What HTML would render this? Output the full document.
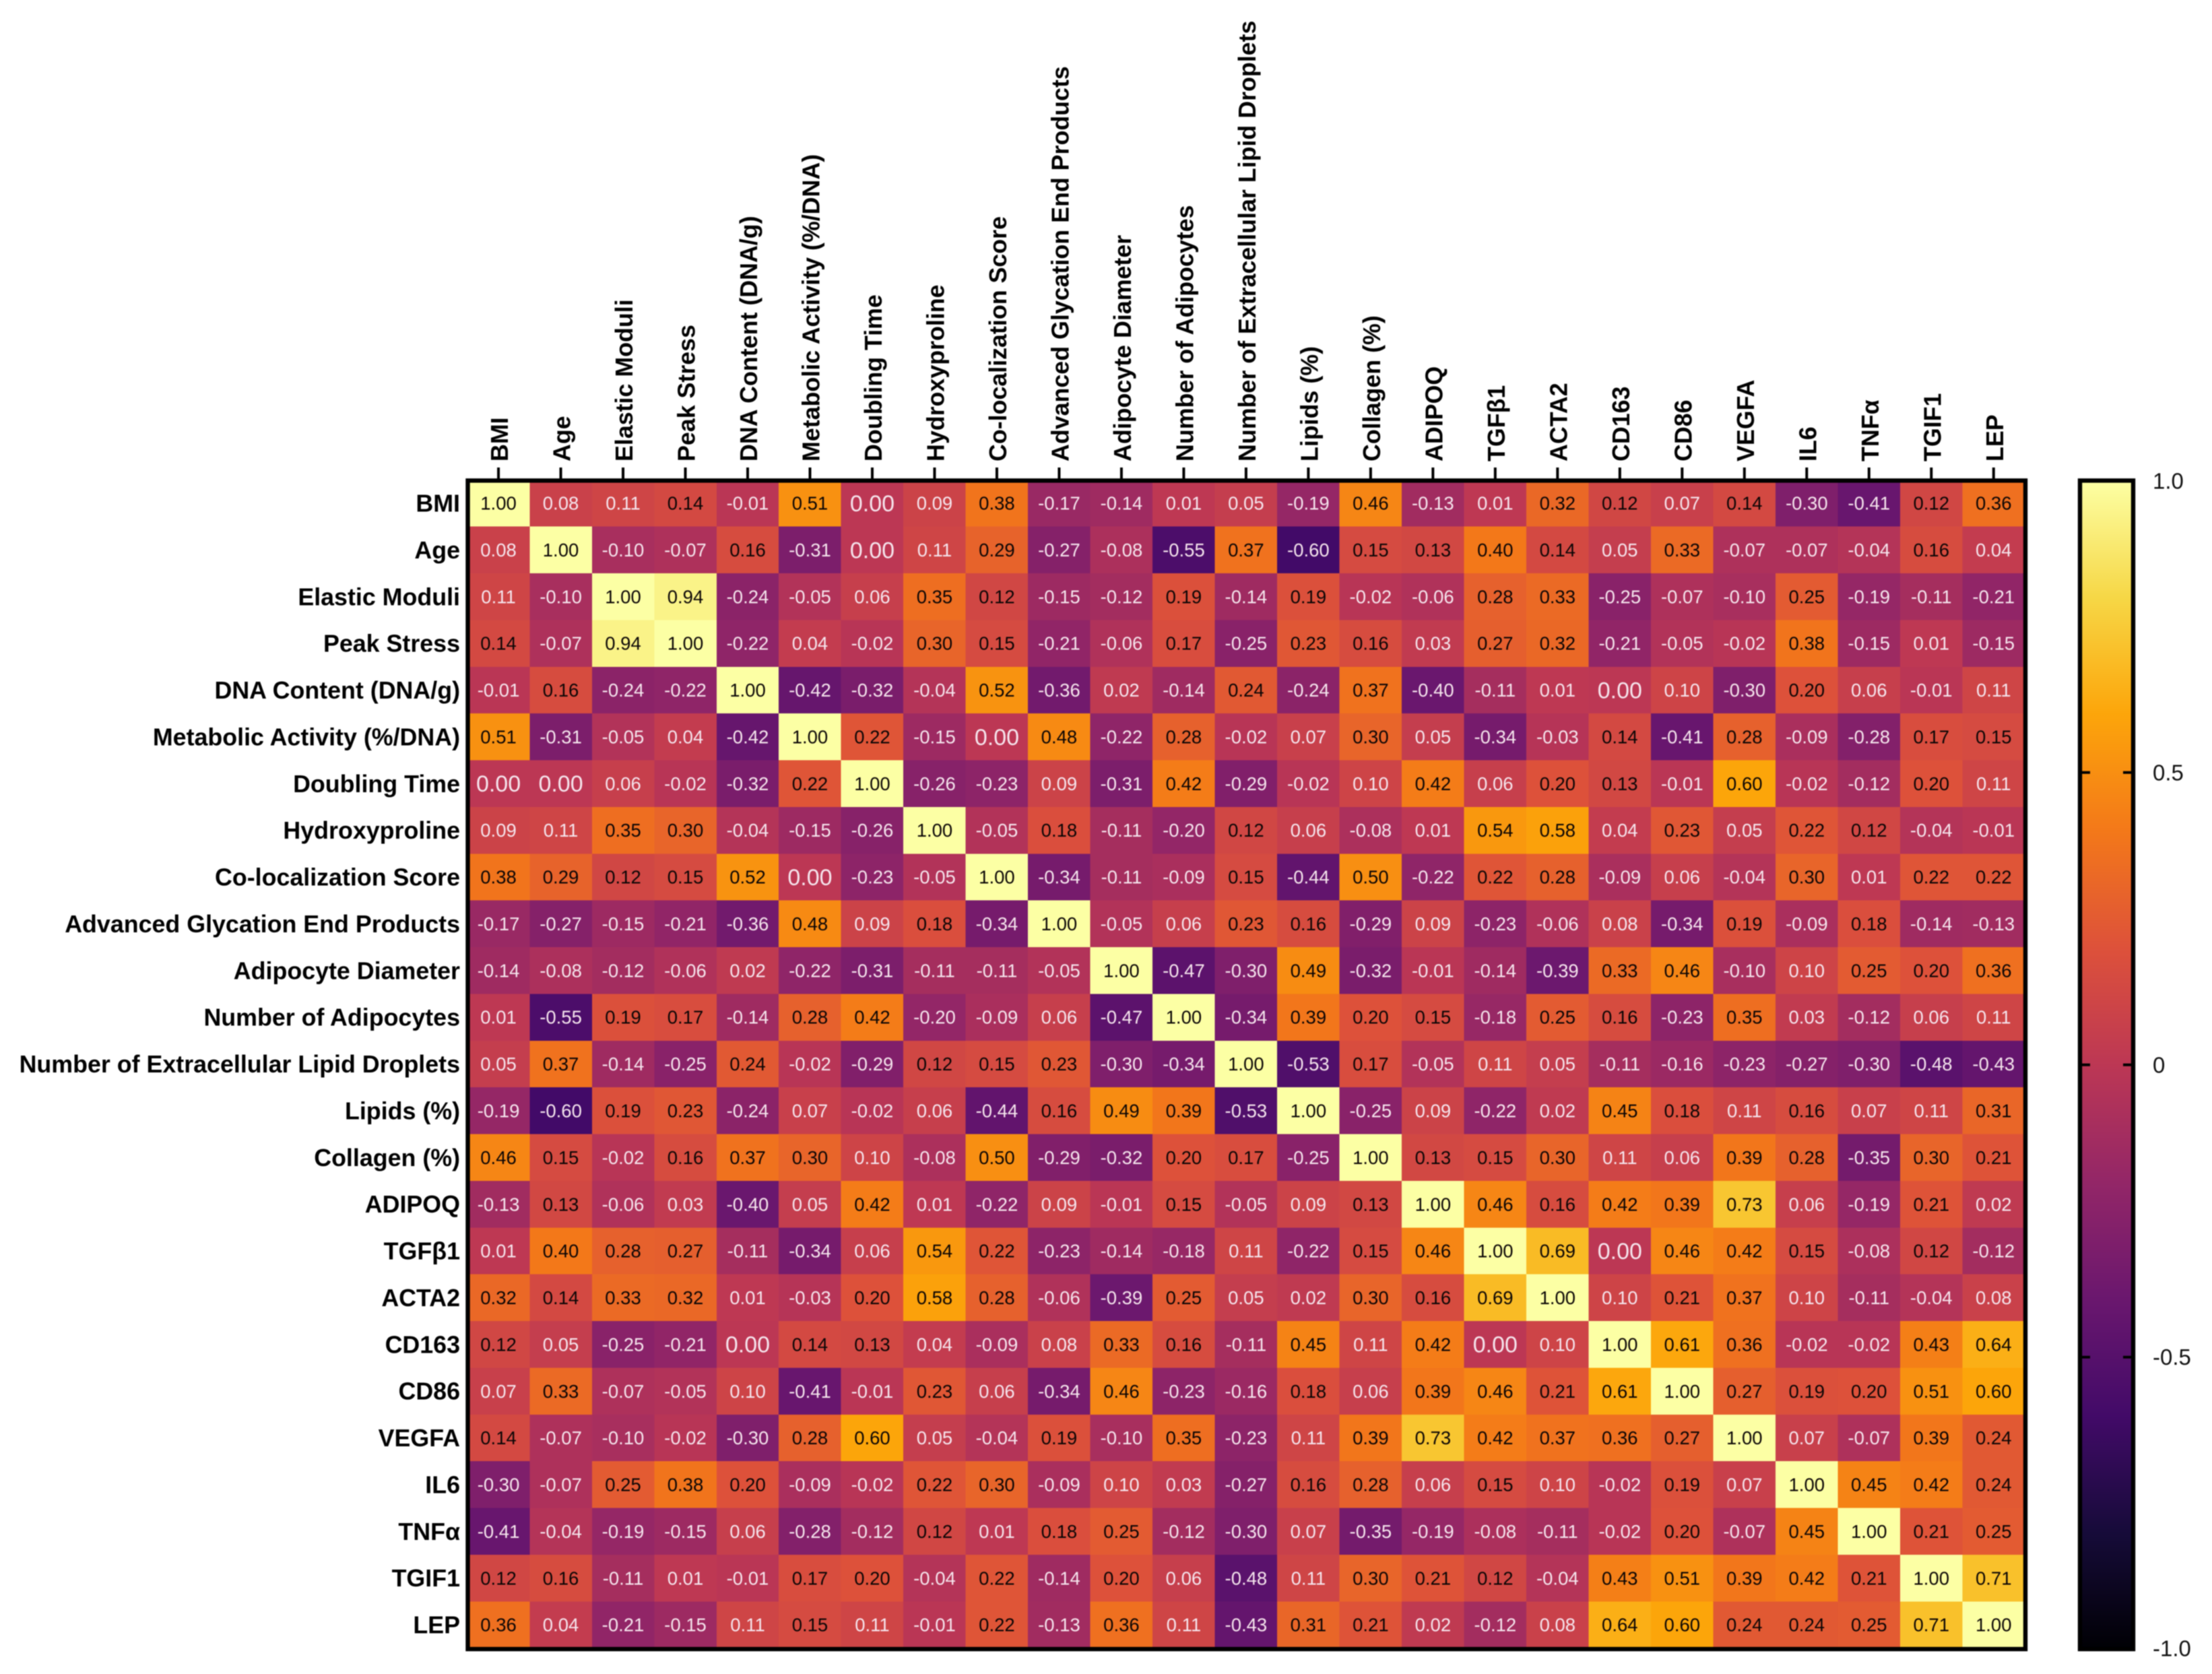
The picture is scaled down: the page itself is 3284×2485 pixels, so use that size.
<!DOCTYPE html>
<html>
<head>
<meta charset="utf-8">
<title>Correlation heatmap</title>
<style>
html,body{margin:0;padding:0;background:#fff;}
body{width:3284px;height:2485px;overflow:hidden;}
svg{display:block;filter:blur(0.9px);font-family:"Liberation Sans",Arial,sans-serif;}
</style>
</head>
<body>
<svg id="chart" xmlns="http://www.w3.org/2000/svg" width="3284" height="2485" viewBox="0 0 3284 2485">
<rect x="0" y="0" width="3284" height="2485" fill="#fff"/>
<defs>
<linearGradient id="cbGrad" x1="0" y1="0" x2="0" y2="1"></linearGradient>
</defs>
<g id="cells"></g>
<g id="values"></g>
<g id="topLabels"></g>
<g id="leftLabels"></g>
<rect x="694.5" y="713.4" width="2312.5" height="1734.6" fill="none" stroke="#000" stroke-width="6.4"/>
<g id="colorbar"></g>
</svg>
<script>
const categories = ["BMI","Age","Elastic Moduli","Peak Stress","DNA Content (DNA/g)","Metabolic Activity (%/DNA)","Doubling Time","Hydroxyproline","Co-localization Score","Advanced Glycation End Products","Adipocyte Diameter","Number of Adipocytes","Number of Extracellular Lipid Droplets","Lipids (%)","Collagen (%)","ADIPOQ","TGFβ1","ACTA2","CD163","CD86","VEGFA","IL6","TNFα","TGIF1","LEP"];
const correlations = [
[1.00,0.08,0.11,0.14,-0.01,0.51,0.00,0.09,0.38,-0.17,-0.14,0.01,0.05,-0.19,0.46,-0.13,0.01,0.32,0.12,0.07,0.14,-0.30,-0.41,0.12,0.36],
[0.08,1.00,-0.10,-0.07,0.16,-0.31,0.00,0.11,0.29,-0.27,-0.08,-0.55,0.37,-0.60,0.15,0.13,0.40,0.14,0.05,0.33,-0.07,-0.07,-0.04,0.16,0.04],
[0.11,-0.10,1.00,0.94,-0.24,-0.05,0.06,0.35,0.12,-0.15,-0.12,0.19,-0.14,0.19,-0.02,-0.06,0.28,0.33,-0.25,-0.07,-0.10,0.25,-0.19,-0.11,-0.21],
[0.14,-0.07,0.94,1.00,-0.22,0.04,-0.02,0.30,0.15,-0.21,-0.06,0.17,-0.25,0.23,0.16,0.03,0.27,0.32,-0.21,-0.05,-0.02,0.38,-0.15,0.01,-0.15],
[-0.01,0.16,-0.24,-0.22,1.00,-0.42,-0.32,-0.04,0.52,-0.36,0.02,-0.14,0.24,-0.24,0.37,-0.40,-0.11,0.01,0.00,0.10,-0.30,0.20,0.06,-0.01,0.11],
[0.51,-0.31,-0.05,0.04,-0.42,1.00,0.22,-0.15,0.00,0.48,-0.22,0.28,-0.02,0.07,0.30,0.05,-0.34,-0.03,0.14,-0.41,0.28,-0.09,-0.28,0.17,0.15],
[0.00,0.00,0.06,-0.02,-0.32,0.22,1.00,-0.26,-0.23,0.09,-0.31,0.42,-0.29,-0.02,0.10,0.42,0.06,0.20,0.13,-0.01,0.60,-0.02,-0.12,0.20,0.11],
[0.09,0.11,0.35,0.30,-0.04,-0.15,-0.26,1.00,-0.05,0.18,-0.11,-0.20,0.12,0.06,-0.08,0.01,0.54,0.58,0.04,0.23,0.05,0.22,0.12,-0.04,-0.01],
[0.38,0.29,0.12,0.15,0.52,0.00,-0.23,-0.05,1.00,-0.34,-0.11,-0.09,0.15,-0.44,0.50,-0.22,0.22,0.28,-0.09,0.06,-0.04,0.30,0.01,0.22,0.22],
[-0.17,-0.27,-0.15,-0.21,-0.36,0.48,0.09,0.18,-0.34,1.00,-0.05,0.06,0.23,0.16,-0.29,0.09,-0.23,-0.06,0.08,-0.34,0.19,-0.09,0.18,-0.14,-0.13],
[-0.14,-0.08,-0.12,-0.06,0.02,-0.22,-0.31,-0.11,-0.11,-0.05,1.00,-0.47,-0.30,0.49,-0.32,-0.01,-0.14,-0.39,0.33,0.46,-0.10,0.10,0.25,0.20,0.36],
[0.01,-0.55,0.19,0.17,-0.14,0.28,0.42,-0.20,-0.09,0.06,-0.47,1.00,-0.34,0.39,0.20,0.15,-0.18,0.25,0.16,-0.23,0.35,0.03,-0.12,0.06,0.11],
[0.05,0.37,-0.14,-0.25,0.24,-0.02,-0.29,0.12,0.15,0.23,-0.30,-0.34,1.00,-0.53,0.17,-0.05,0.11,0.05,-0.11,-0.16,-0.23,-0.27,-0.30,-0.48,-0.43],
[-0.19,-0.60,0.19,0.23,-0.24,0.07,-0.02,0.06,-0.44,0.16,0.49,0.39,-0.53,1.00,-0.25,0.09,-0.22,0.02,0.45,0.18,0.11,0.16,0.07,0.11,0.31],
[0.46,0.15,-0.02,0.16,0.37,0.30,0.10,-0.08,0.50,-0.29,-0.32,0.20,0.17,-0.25,1.00,0.13,0.15,0.30,0.11,0.06,0.39,0.28,-0.35,0.30,0.21],
[-0.13,0.13,-0.06,0.03,-0.40,0.05,0.42,0.01,-0.22,0.09,-0.01,0.15,-0.05,0.09,0.13,1.00,0.46,0.16,0.42,0.39,0.73,0.06,-0.19,0.21,0.02],
[0.01,0.40,0.28,0.27,-0.11,-0.34,0.06,0.54,0.22,-0.23,-0.14,-0.18,0.11,-0.22,0.15,0.46,1.00,0.69,0.00,0.46,0.42,0.15,-0.08,0.12,-0.12],
[0.32,0.14,0.33,0.32,0.01,-0.03,0.20,0.58,0.28,-0.06,-0.39,0.25,0.05,0.02,0.30,0.16,0.69,1.00,0.10,0.21,0.37,0.10,-0.11,-0.04,0.08],
[0.12,0.05,-0.25,-0.21,0.00,0.14,0.13,0.04,-0.09,0.08,0.33,0.16,-0.11,0.45,0.11,0.42,0.00,0.10,1.00,0.61,0.36,-0.02,-0.02,0.43,0.64],
[0.07,0.33,-0.07,-0.05,0.10,-0.41,-0.01,0.23,0.06,-0.34,0.46,-0.23,-0.16,0.18,0.06,0.39,0.46,0.21,0.61,1.00,0.27,0.19,0.20,0.51,0.60],
[0.14,-0.07,-0.10,-0.02,-0.30,0.28,0.60,0.05,-0.04,0.19,-0.10,0.35,-0.23,0.11,0.39,0.73,0.42,0.37,0.36,0.27,1.00,0.07,-0.07,0.39,0.24],
[-0.30,-0.07,0.25,0.38,0.20,-0.09,-0.02,0.22,0.30,-0.09,0.10,0.03,-0.27,0.16,0.28,0.06,0.15,0.10,-0.02,0.19,0.07,1.00,0.45,0.42,0.24],
[-0.41,-0.04,-0.19,-0.15,0.06,-0.28,-0.12,0.12,0.01,0.18,0.25,-0.12,-0.30,0.07,-0.35,-0.19,-0.08,-0.11,-0.02,0.20,-0.07,0.45,1.00,0.21,0.25],
[0.12,0.16,-0.11,0.01,-0.01,0.17,0.20,-0.04,0.22,-0.14,0.20,0.06,-0.48,0.11,0.30,0.21,0.12,-0.04,0.43,0.51,0.39,0.42,0.21,1.00,0.71],
[0.36,0.04,-0.21,-0.15,0.11,0.15,0.11,-0.01,0.22,-0.13,0.36,0.11,-0.43,0.31,0.21,0.02,-0.12,0.08,0.64,0.60,0.24,0.24,0.25,0.71,1.00]
];
const colorbarTicks = [1, 0.5, 0, -0.5, -1];
const colorbarTickLabels = ["1.0", "0.5", "0", "-0.5", "-1.0"];
const infernoStops = ["#000004","#160b39","#420a68","#6a176e","#932667","#bc3754","#dd513a","#f37819","#fca50a","#f6d746","#fcffa4"];

const NS = "http://www.w3.org/2000/svg";
const gridLeft = 693.8, gridRight = 3006, gridTop = 712.3, gridBottom = 2446.7;
const colW = (gridRight - gridLeft) / categories.length;
const rowH = (gridBottom - gridTop) / categories.length;
const xBand = i => gridLeft + i * colW;
const yBand = j => gridTop + j * rowH;
const colorY = v => 1580.7 - v * 867.9;

function hexToRgb(h) {
  return [1, 3, 5].map(k => parseInt(h.substr(k, 2), 16));
}
function colorOf(v) {
  const t = Math.max(0, Math.min(1, (v + 1) / 2)) * (infernoStops.length - 1);
  const k = Math.min(Math.floor(t), infernoStops.length - 2);
  const a = hexToRgb(infernoStops[k]), b = hexToRgb(infernoStops[k + 1]);
  const f = t - k;
  return "rgb(" + a.map((c, n) => Math.round(c + (b[n] - c) * f)).join(",") + ")";
}
function make(parent, tag, attrs, text) {
  const el = document.createElementNS(NS, tag);
  for (const key in attrs) el.setAttribute(key, attrs[key]);
  if (text !== undefined) el.textContent = text;
  parent.appendChild(el);
  return el;
}

const cellsG = document.getElementById("cells");
const valuesG = document.getElementById("values");
correlations.forEach((row, j) => {
  row.forEach((v, i) => {
    const cell = make(cellsG, "rect", {
      x: xBand(i), y: yBand(j), width: colW + 0.4, height: rowH + 0.4,
      fill: colorOf(v), "shape-rendering": "crispEdges"
    });
    
    
    const isZero = Math.abs(v) < 0.005;
    const label = make(valuesG, "text", {
      x: xBand(i) + colW / 2, y: yBand(j) + rowH / 2, dy: "0.35em",
      "text-anchor": "middle",
      "font-size": isZero ? 34 : 27.5,
      fill: v >= 0.115 ? "#0a0505" : "#f6e6ee"
    }, v.toFixed(2));
    
    
  });
});

const topG = document.getElementById("topLabels");
const leftG = document.getElementById("leftLabels");
categories.forEach((name, i) => {
  const cx = xBand(i) + colW / 2;
  const cy = yBand(i) + rowH / 2;
  const tick = make(topG, "rect", { x: cx - 2, y: 694, width: 4, height: 17, fill: "#000" });
  
  
  const topText = make(topG, "text", {
    transform: "translate(" + (cx + 1.5) + ",685) rotate(-90)",
    dy: "0.35em", "text-anchor": "start",
    "font-size": 35.8, "font-weight": "bold", fill: "#000"
  }, name);
  
  
  const leftText = make(leftG, "text", {
    x: 683, y: cy, dy: "0.35em", "text-anchor": "end",
    "font-size": 35.8, "font-weight": "bold", fill: "#000"
  }, name);
  
  
});

const grad = document.getElementById("cbGrad");
const topDownStops = infernoStops.slice().reverse();
topDownStops.forEach((c, n) => {
  make(grad, "stop", { offset: (n / (topDownStops.length - 1)), "stop-color": c });
});
const cb = document.getElementById("colorbar");
const barFill = make(cb, "rect", { x: 3088, y: colorY(1), width: 79, height: colorY(-1) - colorY(1), fill: "url(#cbGrad)" });


colorbarTicks.forEach((v, n) => {
  if (Math.abs(v) < 1) {
    const tl = make(cb, "rect", { x: 3090, y: colorY(v) - 2, width: 13, height: 4, fill: "#000" });
    
    
    const tr = make(cb, "rect", { x: 3152, y: colorY(v) - 2, width: 13, height: 4, fill: "#000" });
    
    
  }
  const lab = make(cb, "text", {
    x: 3196, y: Math.max(714, Math.min(2447, colorY(v))), dy: "0.35em",
    "font-size": 33, fill: "#111"
  }, colorbarTickLabels[n]);
  
  
});
const barFrame = make(cb, "rect", { x: 3088, y: 713.4, width: 79, height: 1734.6, fill: "none", stroke: "#000", "stroke-width": 6.4 });


</script>
</body>
</html>
